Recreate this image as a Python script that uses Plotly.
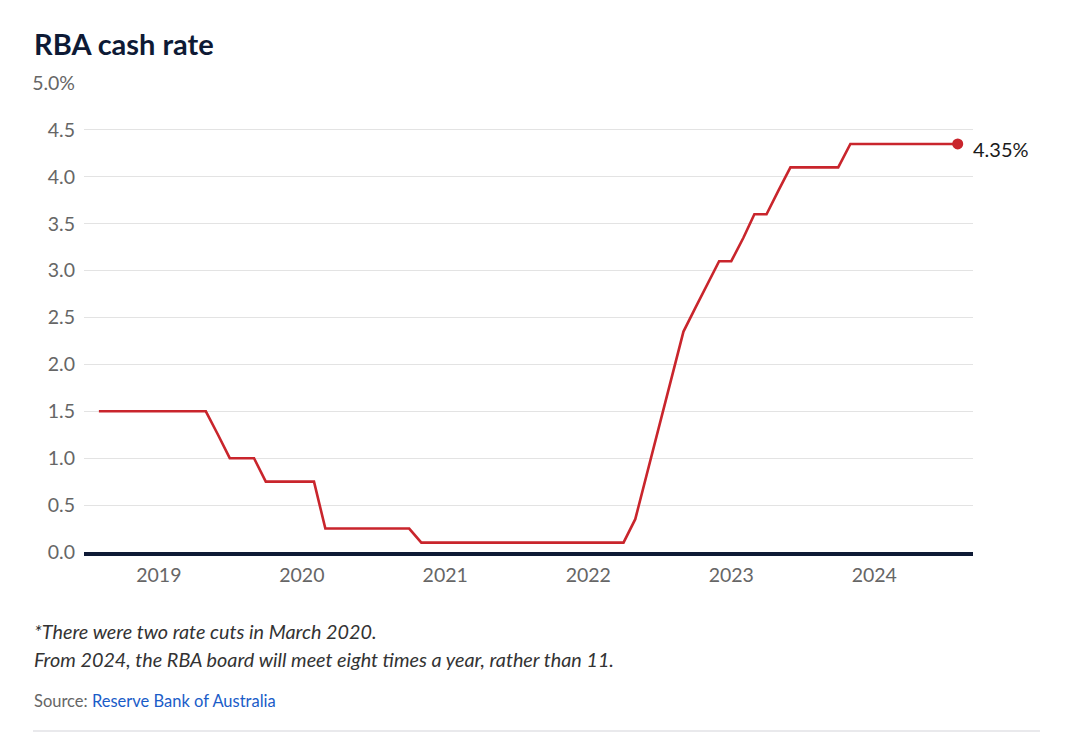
import pandas as pd
import plotly.graph_objects as go

# ---- Data: RBA cash rate target, monthly (first of month), Aug 2018 - Aug 2024 ----
months = pd.date_range("2018-08-01", "2024-08-01", freq="MS")
cash_rate = [
    # 2018 Aug-Dec
    1.5, 1.5, 1.5, 1.5, 1.5,
    # 2019
    1.5, 1.5, 1.5, 1.5, 1.5, 1.25, 1.0, 1.0, 1.0, 0.75, 0.75, 0.75,
    # 2020
    0.75, 0.75, 0.25, 0.25, 0.25, 0.25, 0.25, 0.25, 0.25, 0.25, 0.1, 0.1,
    # 2021
    0.1, 0.1, 0.1, 0.1, 0.1, 0.1, 0.1, 0.1, 0.1, 0.1, 0.1, 0.1,
    # 2022
    0.1, 0.1, 0.1, 0.1, 0.35, 0.85, 1.35, 1.85, 2.35, 2.6, 2.85, 3.1,
    # 2023
    3.1, 3.35, 3.6, 3.6, 3.85, 4.1, 4.1, 4.1, 4.1, 4.1, 4.35, 4.35,
    # 2024 Jan-Aug
    4.35, 4.35, 4.35, 4.35, 4.35, 4.35, 4.35, 4.35,
]
year_ticks = ["2019-01-01", "2020-01-01", "2021-01-01", "2022-01-01", "2023-01-01", "2024-01-01"]
year_labels = ["2019", "2020", "2021", "2022", "2023", "2024"]
y_ticks = [0, 0.5, 1, 1.5, 2, 2.5, 3, 3.5, 4, 4.5, 5]
y_labels = ["0.0", "0.5", "1.0", "1.5", "2.0", "2.5", "3.0", "3.5", "4.0", "4.5", "5.0%"]

title = "RBA cash rate"
note1 = "*There were two rate cuts in March 2020."
note2 = "From 2024, the RBA board will meet eight times a year, rather than 11."
source_label = "Source: "
source_name = "Reserve Bank of Australia"

# ---- Layout geometry (screen pixels; page body has an 8px margin) ----
OFF = 8
W, H = 1080, 748
PLOT_L, PLOT_R, PLOT_T, PLOT_B = 84, 973, 83, 552   # screen coords of plot area
ML = PLOT_L - OFF
MT = PLOT_T - OFF
MR = W - (PLOT_R - OFF)
MB = H - (PLOT_B - OFF)
PW, PH = PLOT_R - PLOT_L, PLOT_B - PLOT_T


def px_x(px):
    return (px - PLOT_L) / PW


def px_y(py):
    return (PLOT_B - py) / PH


FONT = "Lato, 'Noto Sans', sans-serif"
RED = "#c9252c"
NAVY = "#0e1a35"
GREY = "#666666"

fig = go.Figure()
fig.add_trace(go.Scatter(
    x=months, y=cash_rate, mode="lines",
    line=dict(color=RED, width=2.6), hoverinfo="x+y", showlegend=False,
))
fig.add_trace(go.Scatter(
    x=[months[-1]], y=[cash_rate[-1]], mode="markers",
    marker=dict(color=RED, size=11), showlegend=False, cliponaxis=False,
))

fig.update_layout(
    width=W, height=H,
    margin=dict(l=ML, r=MR, t=MT, b=MB, pad=0),
    paper_bgcolor="white", plot_bgcolor="white",
    font=dict(family=FONT, color=GREY, size=19),
    xaxis=dict(
        range=["2018-06-24", "2024-09-09"],
        tickvals=year_ticks, ticktext=year_labels,
        showgrid=False, zeroline=False,
        showline=True, linecolor=NAVY, linewidth=3.5,
        ticks="", ticklabelstandoff=3,
        tickfont=dict(size=19.5, color=GREY, family=FONT),
        fixedrange=True,
    ),
    yaxis=dict(
        range=[0, 5],
        tickvals=y_ticks, ticktext=y_labels,
        showgrid=True, gridcolor="#e3e3e3", gridwidth=1,
        zeroline=False, showline=False,
        ticks="", ticklabelstandoff=8,
        tickfont=dict(size=19.5, color=GREY, family=FONT),
        fixedrange=True,
    ),
)

annotations = [
    dict(text=f"<b>{title}</b>", xref="paper", yref="paper",
         x=px_x(32), y=px_y(43), xanchor="left", yanchor="middle",
         showarrow=False, font=dict(size=29, color=NAVY, family=FONT)),
    dict(text=f"{cash_rate[-1]}%", xref="x", yref="y",
         x=months[-1], y=cash_rate[-1], xanchor="left", yanchor="middle",
         xshift=13, yshift=-5, showarrow=False,
         font=dict(size=20, color="#1a1a1a", family=FONT)),
    dict(text=f"<i>{note1}</i>", xref="paper", yref="paper",
         x=px_x(32), y=px_y(631), xanchor="left", yanchor="middle",
         showarrow=False, font=dict(size=19.8, color="#333333", family=FONT)),
    dict(text=f"<i>{note2}</i>", xref="paper", yref="paper",
         x=px_x(32), y=px_y(659), xanchor="left", yanchor="middle",
         showarrow=False, font=dict(size=19.8, color="#333333", family=FONT)),
    dict(text=f"{source_label}<span style='color:#1a5cc8'>{source_name}</span>",
         xref="paper", yref="paper",
         x=px_x(32), y=px_y(701), xanchor="left", yanchor="middle",
         showarrow=False, font=dict(size=16.5, color=GREY, family=FONT)),
]
fig.update_layout(annotations=annotations)

fig.add_shape(type="line", xref="paper", yref="paper",
              x0=px_x(33), x1=px_x(1040), y0=px_y(731), y1=px_y(731),
              line=dict(color="#e2e2e6", width=1.5))

fig.write_html("out.html")
